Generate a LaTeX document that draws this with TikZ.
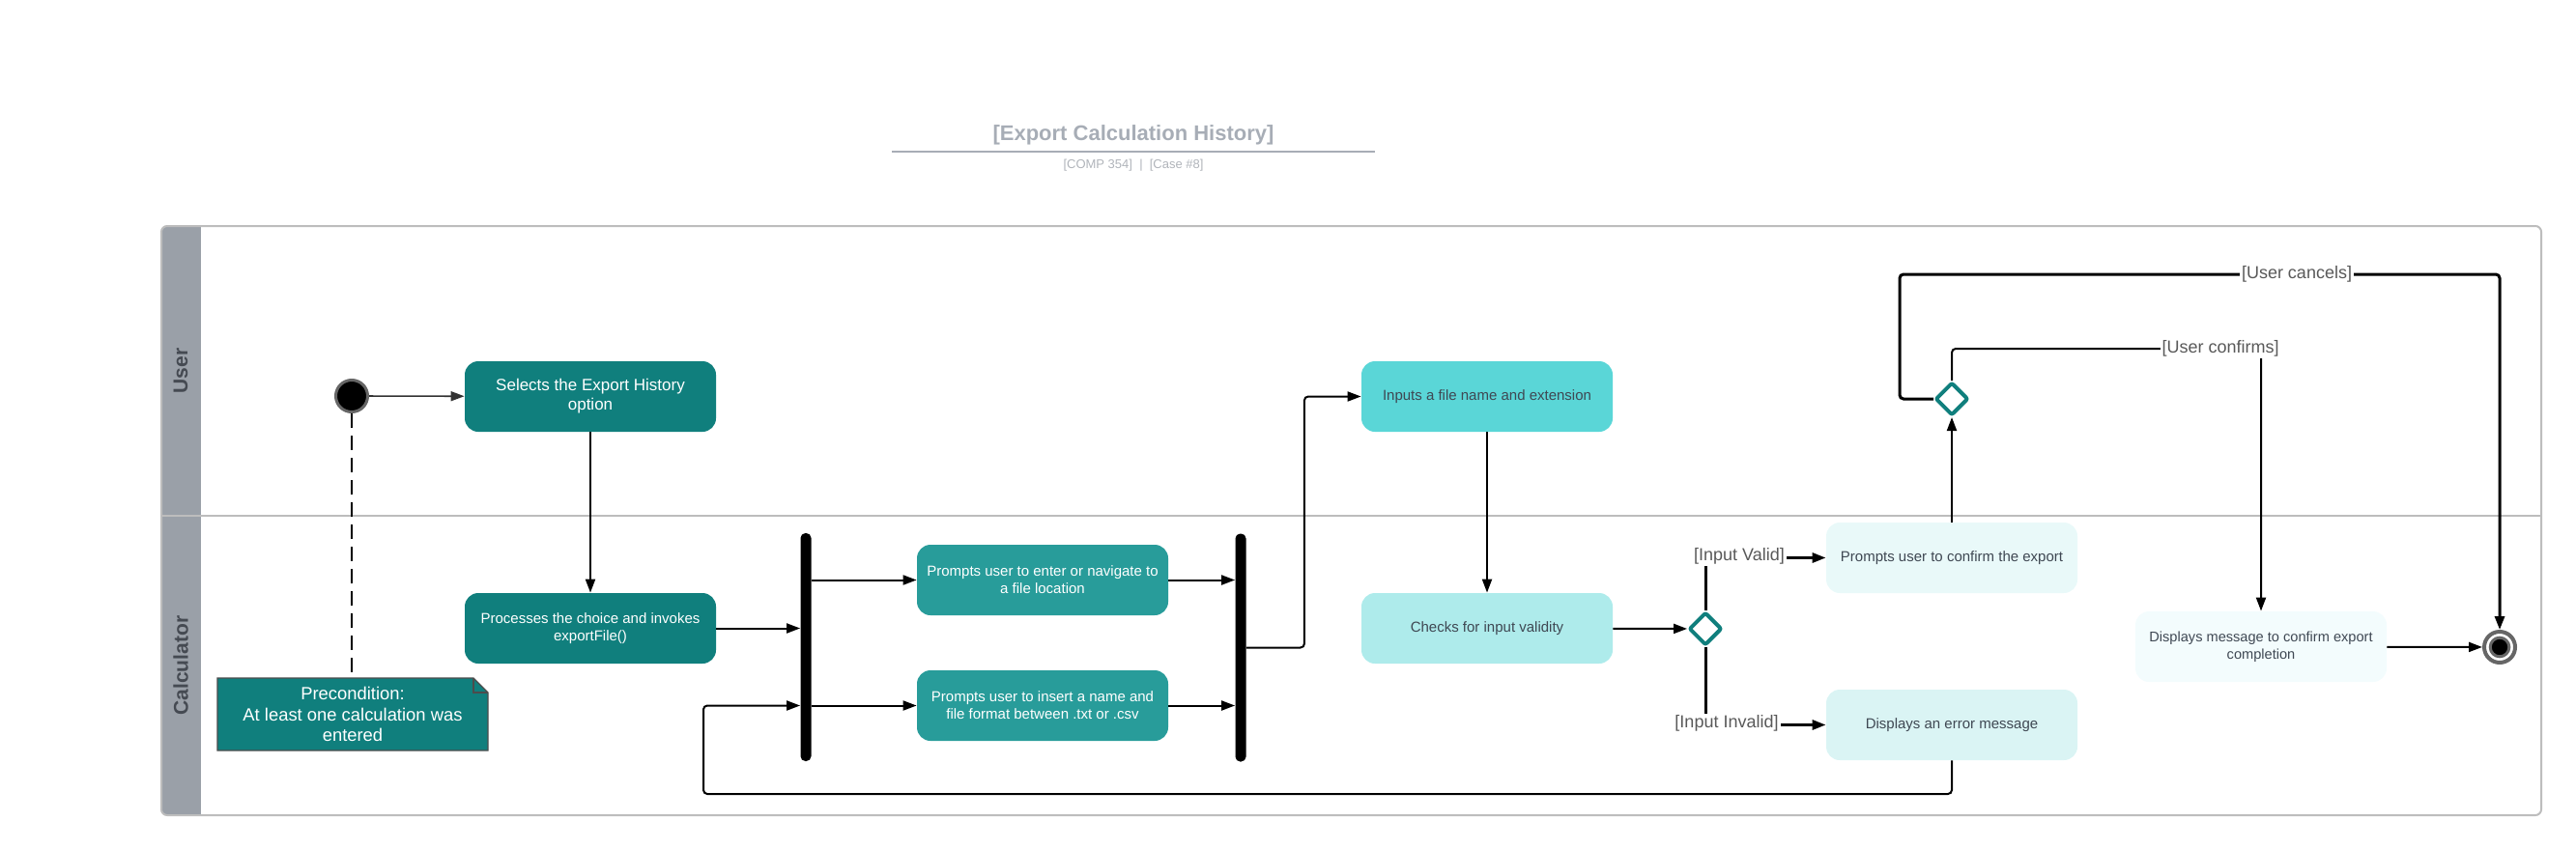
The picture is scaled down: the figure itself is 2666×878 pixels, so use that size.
\documentclass[tikz,border=0pt]{standalone}
\usepackage{fontspec}
\setmainfont{Liberation Sans}
\usetikzlibrary{arrows.meta,shapes.geometric,calc}
\definecolor{tealD}{HTML}{107F7D}
\definecolor{tealM}{HTML}{289C9A}
\definecolor{cyanA}{HTML}{5AD6D7}
\definecolor{cyanB}{HTML}{AEEBEB}
\definecolor{cyanC}{HTML}{E9F9F9}
\definecolor{cyanD}{HTML}{DAF4F4}
\definecolor{cyanE}{HTML}{F3FCFD}
\definecolor{laneG}{HTML}{9AA0A8}
\definecolor{frameG}{HTML}{BDBDBD}
\definecolor{titleG}{HTML}{A7ADB6}
\definecolor{subG}{HTML}{B0B4BA}
\definecolor{txtD}{HTML}{3F4853}
\definecolor{lblG}{HTML}{595959}
\definecolor{ringG}{HTML}{666666}
\definecolor{laneT}{HTML}{454A52}
\begin{document}
\begin{tikzpicture}[x=0.5pt,y=-0.5pt,
  act/.style={rectangle, rounded corners=7pt, minimum width=130pt, minimum height=36.5pt,
    inner sep=0pt, align=center, font=\fontsize{7.5}{9}\selectfont},
  dark/.style={act, fill=tealD, text=white},
  mid/.style={act, fill=tealM, text=white},
  light/.style={act, text=txtD},
  bar/.style={rectangle, fill=black, rounded corners=2.5pt, minimum width=5.5pt,
    minimum height=118pt, inner sep=0pt},
  dec/.style={diamond, draw=tealD, line width=2pt, fill=white, minimum size=17pt,
    inner sep=0pt, rounded corners=1pt},
  startc/.style={circle, fill=black, draw=ringG, line width=1.5pt, minimum size=16.5pt, inner sep=0pt},
  endc/.style={circle, draw=ringG, line width=2pt, fill=white, minimum size=16pt, inner sep=0pt},
  arr/.style={line width=1pt, -{Triangle[length=7pt,width=5pt]}},
  arrsoft/.style={line width=0.8pt, draw=black!80, -{Triangle[length=7pt,width=5pt]}},
  arrthick/.style={line width=1.5pt, -{Triangle[length=7pt,width=5pt]}},
  dashline/.style={line width=1pt, dash pattern=on 7.5pt off 4pt},
  guard/.style={fill=white, text=lblG, inner sep=1pt, font=\fontsize{9}{10}\selectfont},
  lanelbl/.style={rotate=90, text=laneT, font=\bfseries\fontsize{10.5}{12}\selectfont},
]
\useasboundingbox (0,0) rectangle (2666,878);

% title
\node[text=titleG, font=\bfseries\fontsize{11}{13}\selectfont] (title) at (1173,140) {[Export Calculation History]};
\coordinate (ulL) at (923,157);
\coordinate (ulR) at (1423,157);
\draw[titleG, line width=1pt] (ulL) -- (ulR);
\node[text=subG, font=\fontsize{6.5}{8}\selectfont] (sub) at (1173,171) {[COMP 354]\ \ |\ \ [Case \#8]};

% swimlanes
\begin{scope}
  \clip[rounded corners=3pt] (167,234) rectangle (2630,844);
  \fill[laneG] (167,234) rectangle (208,844);
\end{scope}
\draw[frameG, line width=1pt, rounded corners=3pt] (167,234) rectangle (2630,844);
\draw[frameG, line width=1pt] (167,534) -- (2630,534);
\node[lanelbl] (laneU) at (187,384) {User};
\node[lanelbl] (laneC) at (187,689) {Calculator};

% nodes
\node[startc] (st) at (364,410) {};
\node[act, fill=tealD, text=white, font=\fontsize{8.5}{10}\selectfont] (sel) at (611,410.5) {Selects the Export History\\option};
\node[dark] (proc) at (611,650.5) {Processes the choice and invokes\\exportFile()};
\node[bar] (b1) at (834,670) {};
\node[mid] (p1) at (1079,600.5) {Prompts user to enter or navigate to\\a file location};
\node[mid] (p2) at (1079,730.5) {Prompts user to insert a name and\\file format between .txt or .csv};
\node[bar] (b2) at (1284,670.5) {};
\node[light, fill=cyanA] (inp) at (1539,410.5) {Inputs a file name and extension};
\node[light, fill=cyanB] (chk) at (1539,650.5) {Checks for input validity};
\node[dec] (d1) at (1765,651) {};
\node[light, fill=cyanC] (conf) at (2020,577.5) {Prompts user to confirm the export};
\node[light, fill=cyanD] (err) at (2020,750.5) {Displays an error message};
\node[dec] (d2) at (2020,413) {};
\node[light, fill=cyanE, font=\fontsize{7.3}{9}\selectfont] (comp) at (2340,669.5) {Displays message to confirm export\\completion};
\node[endc] (fin) at (2587,670) {};
\filldraw[fill=black, draw=ringG, line width=1.5pt] (fin.center) circle (4.9pt);

% precondition note
\filldraw[fill=tealD, draw=black!70, line width=0.6pt] (225,702) -- (490,702) -- (505,717) -- (505,777) -- (225,777) -- cycle;
\draw[black!70, line width=0.6pt] (490,702) -- (490,717) -- (505,717);
\node[align=center, text=white, inner sep=0pt, minimum width=140pt, minimum height=37.5pt,
  font=\fontsize{9.2}{10.85}\selectfont] (note) at (365,739.5) {Precondition:\\At least one calculation was\\entered};

% connectors
\draw[arrsoft] (st) -- (sel);
\draw[dashline] (st.south) -- (st.south |- note.north);
\draw[arr] (sel) -- (proc);
\draw[arr] (proc.east) -- (proc.east -| b1.west);
\draw[arr] (b1.east |- p1.west) -- (p1.west);
\draw[arr] (b1.east |- p2.west) -- (p2.west);
\draw[arr] (p1.east) -- (p1.east -| b2.west);
\draw[arr] (p2.east) -- (p2.east -| b2.west);
\draw[arr, rounded corners=2pt] (b2.east) -- ++(60,0) |- (inp.west);
\draw[arr] (inp) -- (chk);
\draw[arr] (chk) -- (d1);
\draw[arrthick] (d1.north) |- (conf.west);
\node[guard] (gv) at (1800,576) {[Input Valid]};
\draw[arrthick] (d1.south) |- (err.west);
\node[guard] (gi) at (1787,749) {[Input Invalid]};
\coordinate (loopc) at (728,822);
\draw[arr, rounded corners=2pt] (err.south) |- (loopc) |- (b1.west |- p2.west);
\draw[arr] (conf) -- (d2);
\coordinate (cancTL) at (1966,284);
\draw[arrthick, rounded corners=2pt] (d2.west) -| (cancTL) -| (fin.north);
\node[guard] (gc) at (2377,284) {[User cancels]};
\coordinate (confTR) at (2340,361);
\draw[arr, rounded corners=2pt] (d2.north) |- (confTR) -- (comp.north);
\node[guard] (gu) at (2298,361) {[User confirms]};
\draw[arr] (comp) -- (fin);
\end{tikzpicture}
\end{document}
